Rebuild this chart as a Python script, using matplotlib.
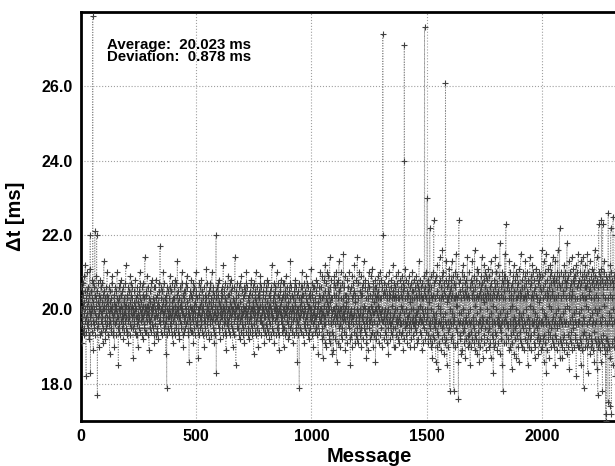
import numpy as np
import matplotlib
matplotlib.use('Agg')
import matplotlib.pyplot as plt

plt.rcParams['font.family'] = ['Liberation Sans', 'DejaVu Sans']
plt.rcParams['font.weight'] = 'bold'

# delta t per message, coded in 0.1 ms steps from 17.0 ms (see levels below)
levels = "0123456789ABCDEFGHIJKLMNOPQRSTUVWXYZabcdefghijklmnopqrstuvwxyz"
dt_rows = [
    "UQaSXLTbVO YPTdWNRUgZ SOCXZVeQTP WaRMUYNTfS oDVZQTOXcU RSbJWQUaPY pTNXVdRSoP Z7WSQbUKYT",
    "VNXUcROTaS QWbTLYUPVh UZRSOXMVaT PYWeSQUNXV TaQSIWZRUO XUPVdTbRSN SOYTWKaUQV RVZUNSeXTP",
    "WSFaUQXOTb NUcVRYSPZT UQaSMXTWOV TbRUgPVSYN XOVTRaLUSZ SWNdQTYUbP VaSXPUHTRW QTZUOVcSXN",
    "UNYSaQTKWR ZSPVXeUObT TRWUNaSYMV SbQTXPUiVO YUOSZRVdTN VTaRUJSXPW RZUSObTQcV TPXVUNaWSL",
    "UaSQcTNXVO SYPTWMUbRV ZTRlQSOUXa VNUZSRTeWP TbOVXQUSIY WR9aUNTZSP UVOXSdTQaR SZPUNWTbLX",
    "RUXSaOTcVN VPbTQYSUhW TZOUNXMSVR SaQVWPUeTb UNYTKRZSOX ZSPVbQUTdW WRaUOTNXSG TVQZSPYUcO",
    "SXOUZRTbLV UPaTWNSYeQ VZRSQXUOTH TNbUYVPSaR WSQcTOZUXN UVaRSKTPYW RTNXfUbSQV SOYUZTMWRa",
    "TbQVNSXUeR UPZSaWOTLY VRNTXSoDZU SaUQYTbPcW WOTVRMUZSX TYPSaUNgVQ USZRObTXWJ VNaTQSYUdP",
    "RUYOSbTNWc SZQVPUaTKX UOWaTRNSiV TXFZUQSbVP VSPYTNUaMR WbRUOSdTZQ SNVXTPaUYL UQZSbTOVeR",
    "TaSPXUNWYM VRZTOSbUcQ SPYUNaTVWI UbQSZTOXRe WNTVaSPUYK TXOUZRSbVd RSaNUWQTZP UYPSbTLVXO",
    "SZNUaQTcWP UObSYTRVMX VQZTNUaSgR TPXSOWbUYL WaRUZTNSVe SUPYQbTOXJ UNaTVZSRcW TXQSOUYPbK",
    "USbPXTZNVd TOYUaRSQWM VZNSTbPUXh SQaTOUYVRL URXNTZSbVc WOTaSPYURG TZQUNSb9XV SPUaTXOWYe",
    "UaSNYTQVbL TPZURSOXdW SbQTaVNUYM VOUXSZPTfR UYNSbTQWaK TRaUOVXSPc SZPTNUbVQI WTYSaOURXe",
    "URaSXMTdPH TYNVcQSZLg SQbUKXOTeW VRZTdNUYMi WaLSQUcXOI TXNURJSbYd UQaTMVYSeG SbRTXLUcPh",
    "TZKUaQSeXN UPbSMXTRVj SaOTdRUJYW VNYTLScUQa UXPSeRMZTF TaRUNXdSKY SQbTZOUgXL WYNScRPUMi",
    "UbLTXQSeRO TNZUdPYKSa SYMTbRUhQP VaOUcNXRLH TQZSJXbUeR UPaTMRYVdN SXOUfQTZKb WRNTaYcUGX",
    "UaMTYOQdVX SZLUbRXeTN TXPScRUKaY XoRTMZSbYO UQdSNaXLRY TbPUIXReZQ SYMTcOQaXR VNZSgPYKXb",
    "TPaUKYRdXN UbQSMZXeRO SXLTcRQNaY VQdUOXbRJZ TaMSYPRfXQ UNcSXZQLbY SYOTdQRaKX WPbUMXZReQ",
    "UZNScQXKaR SPYTdORbLX TaMUQZXhYR VOcSNYRaJX UbRTLXQdZP SQaUMYXeOR TSyUcNZLbQ WXaMqPRdYK",
    "UaLRXHTeYN SsMQbPXcRG TRdYKZOgQE VNbXLRiTQc UXJRaPYdMk SQeXNZIbRL TYRcMQhaFX WObRKXfYPd",
    "U8ZRcMXaQh TNYQdLRb8X SRaXKeYPjV VdOXLYRG6b sQTcMRZNXI TXaQJeYOgR UPdXLZRbHY SMcRQaXiNK",
    "TYLReNXaQF UcORKbYXhM SRZQdLXPkJ VaNXMcRYIf TXeQOLRbYG UZKRdPXaMi SQbXHYRcNg WLaYePRXJd",
    "UcMRZOXfYK SPdQaLYXHh TbNXQeRMZD VYKRcOQaiL UNeXRbYJQg SZLRdQXPmI TaOQMYRcFe U8bXQdRLZj",
    "SXdNrLRaTQ TcMQPbXJZh UQeRKYXNaE VbLXOdQRgI SZMRcPXeQH UaNXdKRYbG TRfQMZXOjL SYcRKaQPXe",
    "TaJRXdQMYh UbOXLeRZNF SYcQKPRaiM VNdXJbRYQg UQeXLZROcH TaKRYfQPMd SXNQbIRecL WdMXaQRJZk",
    "UdKRaMXQhG TNeYbLSQjD SZJXcORfMY VaHQdNXgKb UPeRMZYiLc SbKQXdRFhN TcMXaJQePk UYLRdQbqMH",
    "SaLReXKbQH TdMYZNRgJc UQeXbLRaIm VcKQNdXYhE UaMReOXbLi SZJYcPQfKd TbNRdMXQgC UeLXaKRQjb",
    "TcKRaMXehF UbLQdJYXiN S9eRcOXaKg VdMXaKQbjD UeLRcNYZhI SaKXdMQfLb TcJReOXaGk UdMQbLYRiE",
    "TcK7aMXrLe UdJRbGQfMs ScL8rNYaKh VeKRbIX0dM 2cMQaJX5uL TdKR4bYgHq Se2XcLQaFt UbKRdMYeCo",
    "TcLXaJRfMd UbKQeHYaNg",
]
# the few large outliers
spike_idx = [51, 1310, 1403, 1404, 1491, 1582]
spike_val = [27.9, 27.4, 27.1, 24.0, 27.6, 26.1]

codes = "".join(dt_rows).replace(" ", "")
dt = np.array([17.0 + 0.1 * levels.index(c) for c in codes])
dt[spike_idx] = spike_val
msg = np.arange(len(dt))

fig = plt.figure(figsize=(6.15, 4.66), dpi=100)
ax = fig.add_axes([81/615, 45/466, 576/615, 409/466])

ax.plot(msg, dt, ls=':', lw=0.7, color='#8c8c8c', zorder=2)
ax.plot(msg, dt, ls='none', marker='+', ms=5, mew=0.8, color='#404040', zorder=3)

ax.set_xlim(0, 2500)
ax.set_ylim(17.0, 28.0)
ax.set_xticks([0, 500, 1000, 1500, 2000])
ax.set_yticks([18, 20, 22, 24, 26])
ax.set_yticklabels(['18.0', '20.0', '22.0', '24.0', '26.0'])
ax.tick_params(length=0, labelsize=11.5, pad=6)
for lab in ax.get_xticklabels() + ax.get_yticklabels():
    lab.set_fontweight('bold')

ax.grid(True, ls=':', lw=0.8, color='#a0a0a0')
ax.set_axisbelow(True)
for s in ['left', 'bottom', 'top']:
    ax.spines[s].set_linewidth(2)
ax.spines['right'].set_visible(False)

ax.set_xlabel('Message', fontsize=14.5, fontweight='bold', labelpad=2)
ax.set_ylabel('\u0394t [ms]', fontsize=14.5, fontweight='bold', labelpad=12)

ax.text(0.045, 0.937, 'Average:  20.023 ms\nDeviation:  0.878 ms', transform=ax.transAxes,
        fontsize=10.8, fontweight='bold', va='top', ha='left', linespacing=0.85)

fig.savefig('out.png', dpi=100)
